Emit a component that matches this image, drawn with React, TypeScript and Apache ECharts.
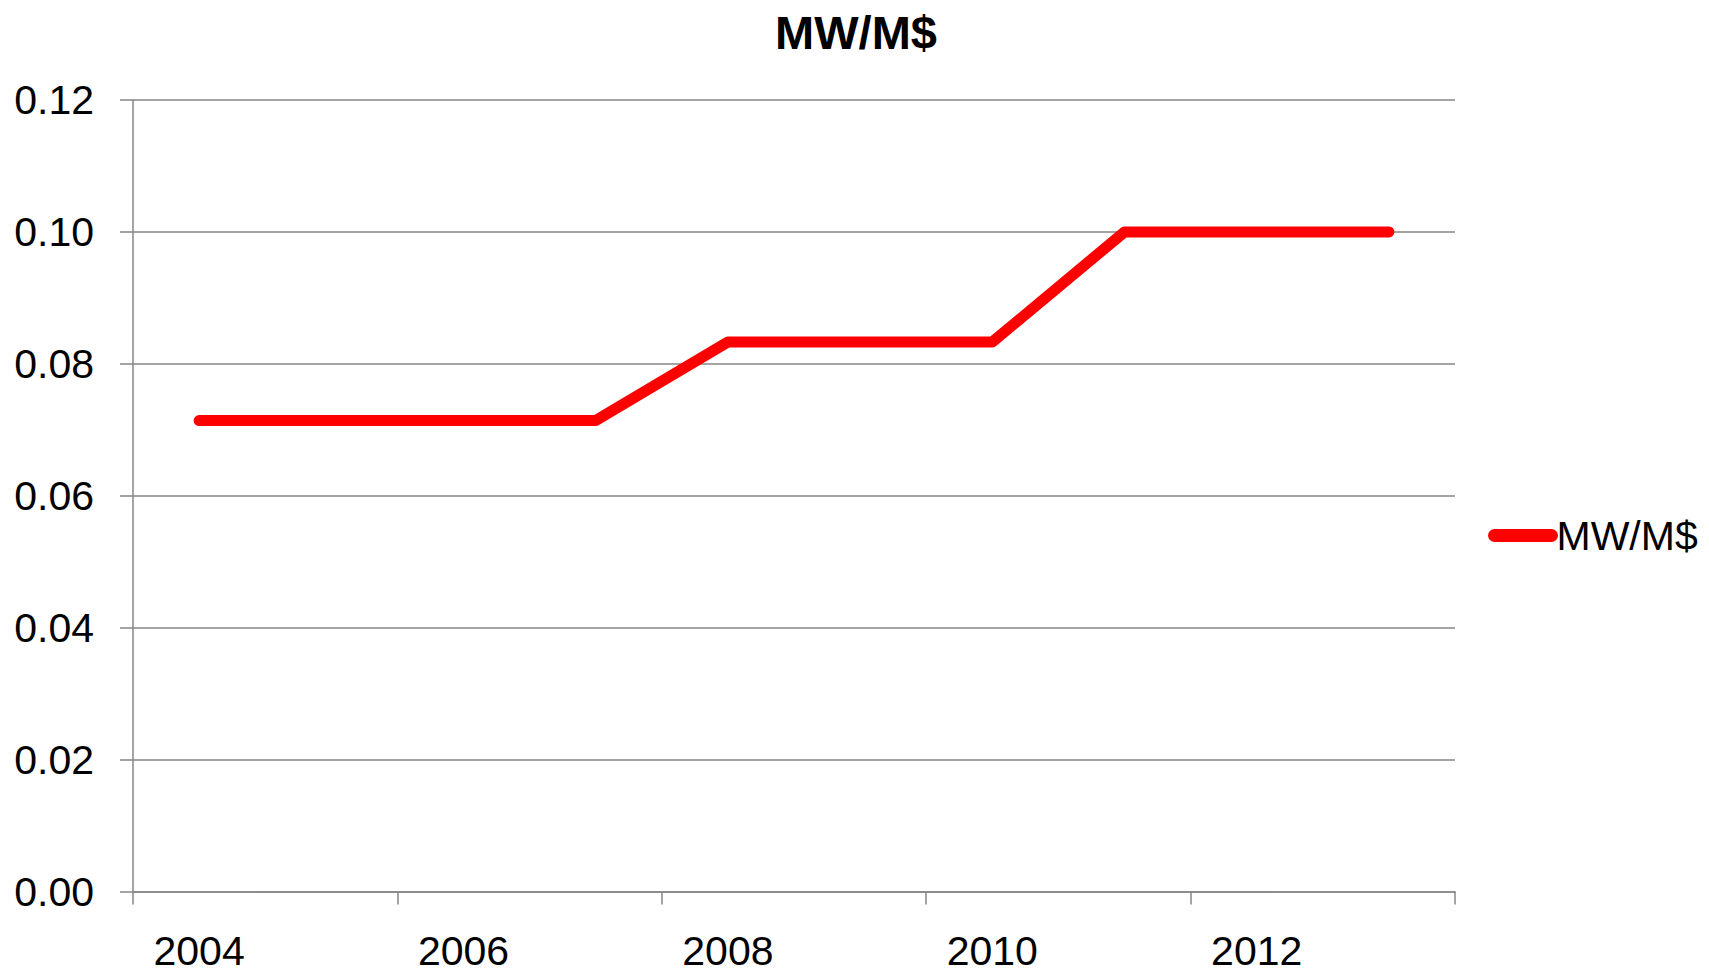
import React, { useEffect, useRef } from "react";
import * as echarts from "echarts";

const years = ["2004", "2005", "2006", "2007", "2008", "2009", "2010", "2011", "2012", "2013"];
const mwPerMillion = [0.0714, 0.0714, 0.0714, 0.0714, 0.0833, 0.0833, 0.0833, 0.1, 0.1, 0.1];
const seriesName = "MW/M$";

export default function App() {
  const ref = useRef<HTMLDivElement>(null);
  useEffect(() => {
    const chart = echarts.init(ref.current!, null, { renderer: "svg" });
    const font = "'Liberation Sans', Arial, sans-serif";
    chart.setOption({
      animation: false,
      backgroundColor: "#ffffff",
      title: {
        text: "MW/M$",
        left: 851,
        textAlign: "center",
        top: 4,
        textStyle: { fontFamily: font, fontSize: 47, fontWeight: "bold", color: "#000" },
      },
      legend: {
        left: 1483,
        top: 510,
        itemWidth: 57,
        itemHeight: 13,
        data: [seriesName],
        textStyle: { fontFamily: font, fontSize: 41, color: "#000" },
        lineStyle: { width: 13, cap: "round" },
      },
      grid: { left: 133, right: 254, top: 100, bottom: 82.5, containLabel: false },
      xAxis: {
        type: "category",
        data: years,
        boundaryGap: true,
        axisLine: { show: true, lineStyle: { color: "#868686", width: 1.5 } },
        axisTick: { show: true, interval: 1, length: 13, lineStyle: { color: "#868686", width: 1.5 } },
        axisLabel: { interval: 1, margin: 39, fontFamily: font, fontSize: 41, color: "#000" },
        splitLine: { show: false },
      },
      yAxis: {
        type: "value",
        min: 0,
        max: 0.12,
        interval: 0.02,
        axisLine: { show: true, lineStyle: { color: "#868686", width: 1.5 } },
        axisTick: { show: true, length: 13, lineStyle: { color: "#868686", width: 1.5 } },
        axisLabel: {
          margin: 39,
          fontFamily: font,
          fontSize: 41,
          color: "#000",
          formatter: (v: number) => v.toFixed(2),
        },
        splitLine: { show: true, lineStyle: { color: "#868686", width: 1.5 } },
      },
      series: [
        {
          name: seriesName,
          type: "line",
          data: mwPerMillion,
          symbol: "none",
          color: "#ff0000",
          lineStyle: { color: "#ff0000", width: 11, cap: "round", join: "round" },
        },
      ],
    });
    return () => chart.dispose();
  }, []);
  return (
    <div
      ref={ref}
      style={{ position: "fixed", left: 0, top: 0, width: 1709, height: 974, background: "#fff" }}
    />
  );
}
